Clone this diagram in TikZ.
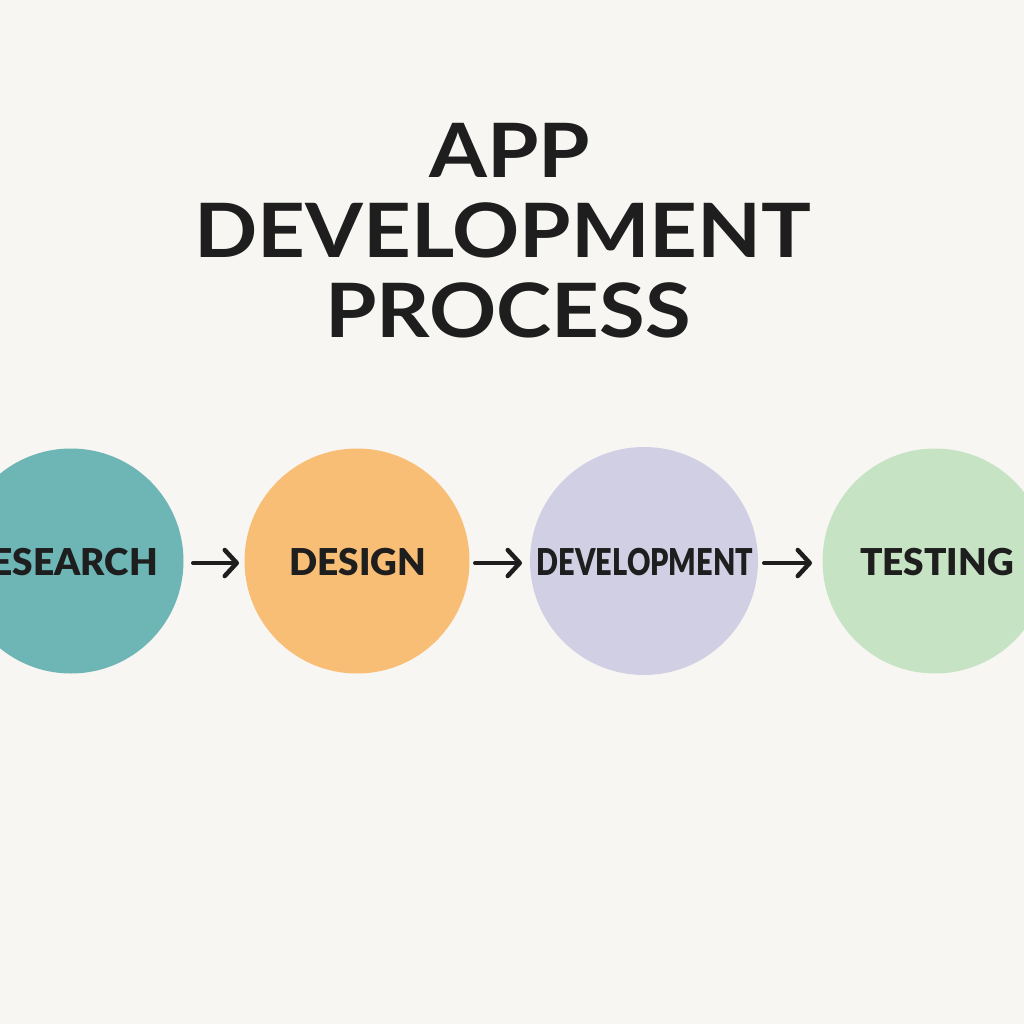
\documentclass[tikz,border=0pt]{standalone}
\usepackage{fontspec}
\setmainfont{Lato}
\newfontfamily\heavy{Lato}[UprightFont=* Black, BoldFont=* Black]
\usetikzlibrary{arrows.meta}
\definecolor{bg}{HTML}{F8F6F2}
\definecolor{cteal}{HTML}{6DB6B5}
\definecolor{corange}{HTML}{F9BE75}
\definecolor{clav}{HTML}{D0CFE3}
\definecolor{cgreen}{HTML}{C6E4C3}
\definecolor{ink}{HTML}{1E1E1E}
\tikzset{
  stage/.style={circle, minimum size=225pt, inner sep=0pt},
  lbl/.style={font=\heavy\fontsize{37}{37}\selectfont, text=ink, inner sep=0pt},
  ttl/.style={font=\fontsize{75}{75}\selectfont\bfseries, text=ink, inner sep=0pt, xscale=1.11},
  flow/.style={ink, line width=4pt, line cap=round, -{Straight Barb[length=12pt, width=26pt, line width=4.5pt, round]}}
}
\begin{document}
\begin{tikzpicture}[x=1pt,y=-1pt]
\fill[bg] (0,0) rectangle (1024,1024);
\clip (0,0) rectangle (1024,1024);
\useasboundingbox (0,0) rectangle (1024,1024);
\node[ttl] (t1) at (510,150) {APP};
\node[ttl] (t2) at (503,230) {DEVELOPMENT};
\node[ttl] (t3) at (508,310) {PROCESS};
\node[stage, fill=cteal] (c1) at (71,561) {};
\node[stage, fill=corange] (c2) at (357,561) {};
\node[stage, fill=clav, minimum size=228pt] (c3) at (644,561) {};
\node[stage, fill=cgreen] (c4) at (935,561) {};
\node[lbl, anchor=east] (l1) at (158,562) {RESEARCH};
\node[lbl] (l2) at (358,562) {DESIGN};
\node[lbl, xscale=0.78] (l3) at (645,562) {DEVELOPMENT};
\node[lbl] (l4) at (937,562) {TESTING};
\coordinate (a1s) at (193,563); \coordinate (a1e) at (239,563);
\coordinate (a2s) at (475,563); \coordinate (a2e) at (522,563);
\coordinate (a3s) at (764,563); \coordinate (a3e) at (812,563);
\draw[flow] (a1s) -- (a1e);
\draw[flow] (a2s) -- (a2e);
\draw[flow] (a3s) -- (a3e);
\end{tikzpicture}
\end{document}
